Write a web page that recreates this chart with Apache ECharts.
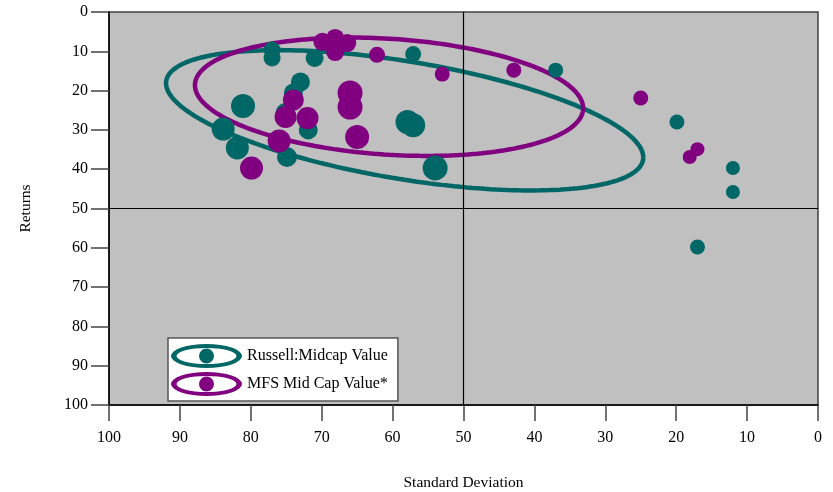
<!DOCTYPE html>
<html>
<head>
<meta charset="utf-8">
<script src="https://cdn.jsdelivr.net/npm/echarts@6/dist/echarts.min.js"></script>
<style>
html,body{margin:0;padding:0;background:#fff;}
#chart{width:833px;height:492px;}
</style>
</head>
<body>
<div id="chart"></div>
<script>
// ---- data ----
const seriesNames = ['Russell:Midcap Value', 'MFS Mid Cap Value*'];

const russellSD   = [77.0, 77.0, 71.0, 73.0, 74.0, 81.1, 75.1, 71.9, 83.9, 81.9, 74.9, 57.1, 37.0, 57.9, 57.1, 54.0, 19.9, 12.0, 12.0, 17.0];
const russellRet  = [ 9.7, 11.7, 11.7, 17.8, 20.6, 23.9, 25.7, 30.0, 29.8, 34.6, 36.9, 10.7, 14.8, 28.0, 28.8, 39.7, 28.0, 39.7, 45.8, 59.8];
const russellSize = [ 17,   17,   18,   19,   19,   24,   20,   19,   23,   23,   20,   16,   15,   24,   24,   25,   15,   14,   14,   15];

const mfsSD   = [69.9, 68.1, 66.4, 68.1, 62.2, 74.0, 75.1, 72.0, 66.0, 66.0, 65.0, 76.0, 79.9, 53.0, 42.9, 25.0, 17.0, 18.1];
const mfsRet  = [ 7.6,  6.6,  7.9, 10.2, 10.9, 22.4, 26.7, 27.0, 20.6, 24.2, 31.8, 32.8, 39.7, 15.8, 14.8, 21.9, 34.9, 36.9];
const mfsSize = [ 18,   18,   18,   18,   16,   21,   22,   22,   25,   25,   24,   23,   23,   15,   15,   15,   14,   14];

// ellipse definitions in data units: centre, and two conjugate semi-axis vectors
const russellEllipseCenter = [58.3, 27.55];
const russellEllipseAxisA  = [-33.66, 9.44];
const russellEllipseAxisB  = [0, 15.15];
const mfsEllipseCenter = [60.5, 21.56];
const mfsEllipseAxisA  = [-27.38, 2.93];
const mfsEllipseAxisB  = [0, 14.77];

const crossX = 50, crossY = 50;
const axisMin = 0, axisMax = 100, axisStep = 10;

// ---- build ----
function ellipsePoints(c, a, b) {
  const pts = [];
  const n = 240;
  for (let i = 0; i <= n; i++) {
    const t = (i / n) * Math.PI * 2;
    pts.push([c[0] + a[0] * Math.cos(t) + b[0] * Math.sin(t),
              c[1] + a[1] * Math.cos(t) + b[1] * Math.sin(t)]);
  }
  return pts;
}
function zip3(x, y, s) { return x.map((v, i) => [v, y[i], s[i]]); }

const TEAL = '#006666';
const PURPLE = '#800080';
const FONT = '"Liberation Serif", "Times New Roman", serif';

const legendIcon = 'path://M0,12 A35.5,12 0 1,1 71,12 A35.5,12 0 1,1 0,12 Z ' +
  'M5.5,12 A30,8 0 1,0 65.5,12 A30,8 0 1,0 5.5,12 Z ' +
  'M28,12 A7.5,7.5 0 1,1 43,12 A7.5,7.5 0 1,1 28,12 Z';

const chart = echarts.init(document.getElementById('chart'), null, {renderer: 'canvas'});
chart.setOption({
  animation: false,
  backgroundColor: '#ffffff',
  textStyle: {fontFamily: FONT},
  grid: {
    left: 109, right: 15, top: 12, bottom: 87,
    containLabel: false, outerBoundsMode: 'none',
    show: true, backgroundColor: '#C0C0C0', borderColor: '#404040', borderWidth: 1.5
  },
  legend: {
    orient: 'vertical',
    left: 168, top: 338,
    backgroundColor: '#ffffff',
    borderColor: '#555555', borderWidth: 1.5,
    padding: [6, 10, 5, 3],
    itemGap: 4,
    itemWidth: 71, itemHeight: 24,
    textStyle: {fontFamily: FONT, fontSize: 16, color: '#000'},
    data: [
      {name: seriesNames[0], icon: legendIcon},
      {name: seriesNames[1], icon: legendIcon}
    ],
    selectedMode: false
  },
  xAxis: {
    type: 'value', inverse: true, min: axisMin, max: axisMax, interval: axisStep,
    name: 'Standard Deviation', nameLocation: 'middle', nameGap: 70,
    nameTextStyle: {fontFamily: FONT, fontSize: 15.5, color: '#000'},
    axisLine: {show: true, onZero: false, lineStyle: {color: '#000', width: 1.5}},
    axisTick: {show: true, inside: false, length: 16, lineStyle: {color: '#444', width: 1.5}},
    axisLabel: {margin: 25, fontFamily: FONT, fontSize: 16, color: '#000'},
    splitLine: {show: false}
  },
  yAxis: {
    type: 'value', inverse: true, min: axisMin, max: axisMax, interval: axisStep,
    name: 'Returns', nameLocation: 'middle', nameGap: 75,
    nameTextStyle: {fontFamily: FONT, fontSize: 15.5, color: '#000'},
    axisLine: {show: true, onZero: false, lineStyle: {color: '#000', width: 1.5}},
    axisTick: {show: true, inside: false, length: 18, lineStyle: {color: '#444', width: 1.5}},
    axisLabel: {margin: 21, fontFamily: FONT, fontSize: 16, color: '#000'},
    splitLine: {show: false}
  },
  series: [
    {
      name: 'cross', type: 'line', data: [], z: 1, silent: true,
      markLine: {
        silent: true, symbol: ['none', 'none'], label: {show: false},
        lineStyle: {color: '#000', width: 1.2, type: 'solid'},
        data: [{xAxis: crossX}, {yAxis: crossY}]
      }
    },
    {
      name: 'russellEllipse', type: 'line', z: 2, silent: true,
      data: ellipsePoints(russellEllipseCenter, russellEllipseAxisA, russellEllipseAxisB),
      showSymbol: false, smooth: false, clip: true,
      lineStyle: {color: TEAL, width: 4.5}
    },
    {
      name: 'mfsEllipse', type: 'line', z: 3, silent: true,
      data: ellipsePoints(mfsEllipseCenter, mfsEllipseAxisA, mfsEllipseAxisB),
      showSymbol: false, smooth: false, clip: true,
      lineStyle: {color: PURPLE, width: 4.5}
    },
    {
      name: seriesNames[0], type: 'scatter', z: 4,
      data: zip3(russellSD, russellRet, russellSize),
      symbol: 'circle', symbolSize: v => v[2],
      itemStyle: {color: TEAL, opacity: 1}
    },
    {
      name: seriesNames[1], type: 'scatter', z: 5,
      data: zip3(mfsSD, mfsRet, mfsSize),
      symbol: 'circle', symbolSize: v => v[2],
      itemStyle: {color: PURPLE, opacity: 1}
    }
  ]
});
</script>
</body>
</html>
